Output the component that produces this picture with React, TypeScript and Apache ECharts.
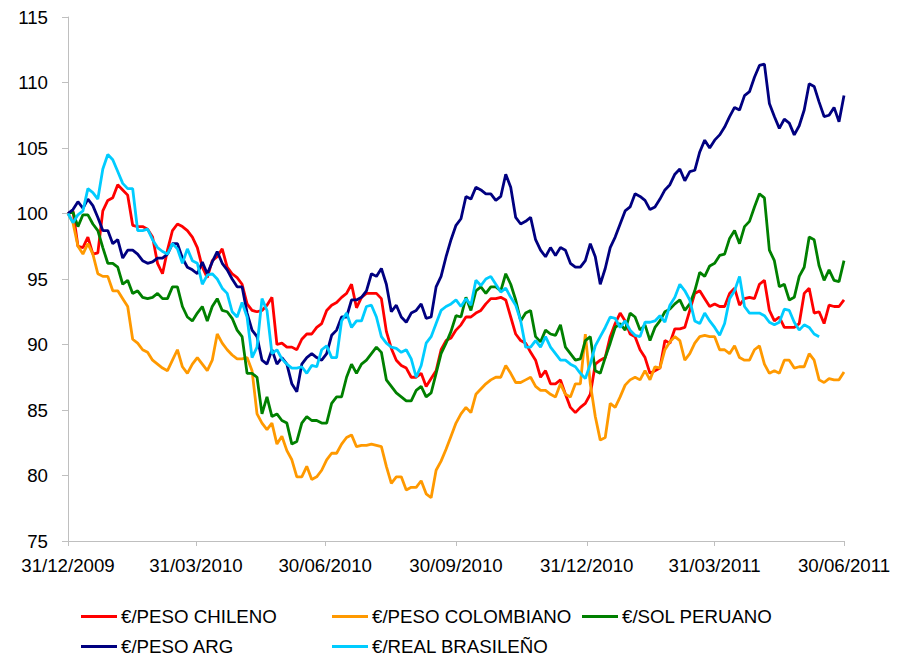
import React, { useEffect, useRef } from "react";
import * as echarts from "echarts";

// Samples read twice a week (every 3.5 days) starting on 31/12/2009
const START_DATE = "2009-12-31";
const STEP_DAYS = 3.5;

const tickLabels = ["31/12/2009", "31/03/2010", "30/06/2010", "30/09/2010", "31/12/2010", "31/03/2011", "30/06/2011"];

const seriesNames = ["€/PESO CHILENO", "€/PESO COLOMBIANO", "€/SOL PERUANO", "€/PESO ARG", "€/REAL BRASILEÑO"];

const pesoChileno = [
  100, 100.2, 97.5, 97.4, 98.2, 96.9, 97, 100.2, 101, 101.2, 102.2, 101.8, 101.4, 99.1, 99, 99, 98.8, 98.2, 96.2, 95.4,
  97.2, 98.7, 99.2, 99, 98.7, 98.2, 97.4, 95.9, 95.1, 96.4, 96.7, 97.3, 95.9, 95.4, 95.1, 94.6, 93.1, 92.6, 92.5, 92.6,
  93, 93.6, 90, 90.1, 89.8, 89.8, 89.6, 90.4, 90.8, 90.8, 91.3, 91.6, 92.6, 93, 93.2, 93.6, 93.9, 94.6, 92.8, 93.6,
  93.9, 93.9, 93.9, 93.5, 91, 89.7, 88.8, 88.4, 88.2, 87.5, 87.5, 87.8, 86.8, 87.4, 88, 89.6, 90.3, 90.5, 91.1, 91.5,
  92.1, 92.1, 92.4, 92.6, 93.1, 93.5, 93.5, 93.6, 93.4, 92.1, 90.8, 90.3, 90.1, 89.4, 88.8, 87.5, 88, 87, 87, 87.3,
  86.2, 85.2, 84.8, 85.2, 85.5, 86.2, 88.5, 88.8, 89, 90.6, 91.6, 92.4, 91.8, 90.8, 90.6, 89.6, 89, 87.8, 88, 88.2,
  90.3, 90.1, 91.2, 91.2, 91.3, 92.6, 93.9, 94.1, 93.5, 92.9, 93.1, 92.9, 92.9, 93.9, 94.3, 93, 93.5, 93.6, 93.5, 94.6,
  94.9, 92.6, 91.8, 92.1, 91.3, 91.3, 91.3, 91.6, 93.9, 94.3, 92.4, 92.5, 91.6, 93, 92.9, 92.9, 93.4,
];

const pesoColombiano = [
  100, 99.3, 97.5, 96.9, 97.7, 96.9, 95.4, 95.2, 95.2, 94.1, 94.1, 93.5, 92.9, 90.4, 90.1, 89.6, 89.4, 88.8, 88.5, 88.2,
  88, 88.8, 89.6, 88.3, 87.8, 88.5, 89, 88.5, 88, 88.8, 90.8, 90.1, 89.6, 89.2, 88.9, 88.9, 89, 88, 84.7, 84,
  83.5, 84, 82.4, 83, 81.9, 81.2, 79.9, 79.9, 80.7, 79.7, 79.9, 80.4, 81.2, 81.7, 81.7, 82.4, 82.9, 83.1, 82.2, 82.3,
  82.3, 82.4, 82.3, 82.2, 80.7, 79.4, 79.9, 79.9, 78.9, 79.1, 79.1, 79.6, 78.6, 78.3, 80.4, 81.1, 82, 83, 84, 84.7,
  85.2, 84.8, 86.2, 86.6, 87, 87.3, 87.5, 87.5, 88.4, 87.8, 87.1, 87.1, 87.3, 87.5, 86.8, 86.5, 86.5, 86.2, 86, 87,
  86.2, 86, 87, 87, 90.8, 87, 84.5, 82.7, 82.9, 85.5, 85.2, 86, 86.9, 87.3, 87.5, 87.3, 88, 87.3, 88.3, 88.2,
  89.6, 90.2, 90.6, 90.3, 88.8, 89.3, 90.1, 90.6, 90.7, 90.6, 90.6, 89.6, 89.6, 89.3, 89.9, 89, 88.8, 88.8, 89.6, 89.9,
  88.5, 87.8, 88, 87.8, 88.8, 88.8, 88.2, 88.3, 88.3, 89.3, 88.8, 87.3, 87.1, 87.4, 87.3, 87.3, 87.9,
];

const solPeruano = [
  100, 100.1, 99, 99.9, 99.9, 99.2, 98.7, 97.4, 96.2, 96.2, 95.9, 94.6, 94.9, 93.9, 94.1, 93.6, 93.5, 93.6, 93.9, 93.5,
  93.5, 94.4, 94.4, 92.9, 92.1, 91.8, 92.4, 92.9, 91.8, 92.9, 93.5, 92.6, 92.5, 92, 91.1, 90.6, 87.8, 87.8, 87.5, 84.7,
  86, 84.5, 84.7, 84.2, 84, 82.4, 82.6, 84, 84.5, 84.2, 84.2, 84, 84, 85.5, 86, 86, 87.5, 88.5, 87.8, 88.5,
  88.8, 89.3, 89.8, 89.4, 87.3, 86.8, 86.3, 86, 85.7, 85.7, 86.5, 86.8, 86, 86.3, 87.8, 89.3, 90.1, 91, 92.2, 92.1,
  93.6, 92.6, 94.1, 94.4, 93.9, 94.4, 94.4, 94.1, 95.4, 94.6, 93.4, 91.8, 92.4, 92.6, 90.6, 90.2, 91.1, 90.8, 90.7, 91.5,
  89.8, 89.3, 88.8, 88.9, 90.3, 90.6, 88, 87.8, 89, 90.1, 91.3, 91.6, 91.1, 92.4, 92.1, 91.1, 91.5, 90.3, 91.3, 91.8,
  92.5, 92.7, 93.1, 93.4, 92.6, 93.1, 94.1, 95.5, 95.2, 96, 96.2, 96.8, 96.9, 98.1, 98.7, 97.7, 99, 99.4, 100.5, 101.5,
  101.2, 97.2, 96.4, 94.4, 94.6, 93.4, 93.6, 95.2, 95.9, 98.2, 98, 96, 94.9, 95.7, 94.9, 94.8, 96.4,
];

const pesoArg = [
  100, 100.3, 100.9, 100.4, 101.1, 100.6, 99.7, 98.7, 98.7, 97.7, 98, 96.6, 97.2, 97.2, 96.9, 96.4, 96.2, 96.3, 96.6, 96.6,
  96.9, 97.7, 97.7, 96.6, 95.9, 95.7, 95.4, 96.3, 95.4, 96.3, 97.1, 96.2, 95.7, 95, 94.4, 94.4, 92.4, 91.1, 90.6, 88.8,
  88.5, 89.6, 88.5, 89, 88.5, 87, 86.4, 88.5, 89, 89.3, 89, 88.8, 89.3, 90.7, 91.1, 92.1, 92.1, 93.4, 93.4, 93.6,
  94.1, 95.4, 95.2, 95.8, 94.6, 92.5, 93, 92.1, 91.7, 92.4, 92.6, 93.1, 92, 92.1, 94.4, 95.2, 96.7, 98, 99.1, 99.6,
  101.3, 101.1, 102, 101.8, 101.5, 101.5, 101, 101.3, 103, 102, 99.7, 99.2, 99.4, 99.7, 98, 97.2, 96.7, 97.4, 96.8, 97.4,
  97.2, 96.2, 95.9, 95.9, 96.4, 97.7, 96.7, 94.6, 95.8, 97.4, 98.2, 99.2, 100.2, 100.5, 101.5, 101.3, 101, 100.3, 100.5, 101.1,
  101.8, 102.2, 103, 103.4, 102.5, 103.2, 103.3, 104.7, 105.6, 105, 105.6, 106, 106.6, 107.4, 108.1, 107.9, 109, 109.3, 110.4, 111.3,
  111.4, 108.4, 107.4, 106.5, 107.2, 106.9, 106, 106.7, 107.9, 109.9, 109.7, 108.5, 107.4, 107.5, 108.1, 107, 109,
];

const realBrasileno = [
  100, 99.3, 99.9, 100.2, 101.9, 101.6, 101.1, 103.4, 104.5, 104.1, 103.2, 102.3, 101.9, 101.9, 98.7, 98.7, 98.8, 98, 97.4, 97.1,
  96.9, 97.7, 97.3, 96.2, 97.3, 96.4, 96.2, 94.6, 95.3, 95.4, 95, 94.3, 93.9, 92.5, 92.1, 93.2, 92.1, 89, 89.8, 93.5,
  92.6, 89.3, 89.6, 88.9, 88.5, 88.2, 88.2, 88.3, 87.8, 88.4, 88.3, 89.6, 89.9, 89, 89, 91.8, 92.4, 91.3, 91.8, 91.8,
  92.9, 93, 92.1, 90.6, 90.1, 89.8, 89.7, 89.4, 89.6, 88.9, 87.5, 88.4, 90.1, 90.6, 91.6, 92.6, 92.9, 93.1, 93.4, 92.9,
  93.5, 93, 94.9, 94.5, 95, 95.2, 94.6, 94, 94.3, 93.6, 93, 91.8, 89.8, 89.8, 90.3, 89.8, 90.6, 89.8, 89.3, 88.8,
  88.8, 88.5, 88.3, 87.8, 87.4, 88.5, 89.9, 90.6, 91.3, 92.1, 92, 91.3, 91.8, 91.1, 90.7, 90.6, 91.7, 91.7, 91.8, 92.2,
  91.7, 93, 93.6, 94.6, 94.1, 93.4, 91.8, 91.6, 92.4, 91.8, 91.3, 90.7, 91.6, 93.5, 94.1, 95.2, 92.9, 92.4, 92.4, 92.4,
  92.2, 91.7, 91.5, 91.7, 92.7, 92.6, 91.7, 91.1, 91.5, 91.3, 90.8, 90.6, null, null, null, null, null,
];

const seriesValues = [pesoChileno, pesoColombiano, solPeruano, pesoArg, realBrasileno];
const seriesColors = ["#FF0000", "#FF9900", "#008000", "#000080", "#00CCFF"];

const FONT = "'Liberation Sans', Arial, Helvetica, sans-serif";
const DAY_MS = 86400000;

function parseDMY(s: string): number {
  const [d, m, y] = s.split("/").map(Number);
  return Date.UTC(y, m - 1, d);
}
const startMs = Date.parse(START_DATE + "T00:00:00Z");
const tickDays = tickLabels.map((t) => Math.round((parseDMY(t) - startMs) / DAY_MS));
const lastDay = tickDays[tickDays.length - 1];

export default function App() {
  const ref = useRef<HTMLDivElement>(null);

  useEffect(() => {
    if (!ref.current) return;
    const chart = echarts.init(ref.current, null, { renderer: "svg" });

    const legendPos = [
      { left: 81, top: 607 },
      { left: 332, top: 607 },
      { left: 582, top: 607 },
      { left: 81, top: 637 },
      { left: 332, top: 637 },
    ];

    const option: any = {
      animation: false,
      backgroundColor: "#FFFFFF",
      grid: { left: 68, right: 62, top: 17, bottom: 117, containLabel: false },
      legend: seriesNames.map((name, i) => ({
        data: [name],
        left: legendPos[i].left,
        top: legendPos[i].top,
        padding: 0,
        icon: "rect",
        itemWidth: 36,
        itemHeight: 3,
        itemGap: 0,
        selectedMode: false,
        textStyle: { fontSize: 18.7, fontFamily: FONT, color: "#000", padding: [0, 0, 0, -1] },
      })),
      xAxis: {
        type: "value",
        min: 0,
        max: lastDay,
        splitLine: { show: false },
        axisLine: { show: true, lineStyle: { color: "#BFBFBF", width: 1 } },
        axisTick: { show: true, customValues: tickDays, length: 5, lineStyle: { color: "#BFBFBF" } },
        axisLabel: {
          customValues: tickDays,
          fontSize: 18.7,
          fontFamily: FONT,
          color: "#000",
          margin: 15,
          formatter: (v: number) => {
            const idx = tickDays.indexOf(Math.round(v));
            return idx >= 0 ? tickLabels[idx] : "";
          },
        },
      },
      yAxis: {
        type: "value",
        min: 75,
        max: 115,
        interval: 5,
        splitLine: { show: false },
        axisLine: { show: true, lineStyle: { color: "#BFBFBF", width: 1 } },
        axisTick: { show: true, length: 6, lineStyle: { color: "#BFBFBF" } },
        axisLabel: { fontSize: 18.7, fontFamily: FONT, color: "#000", margin: 20 },
      },
      series: seriesNames.map((name, i) => ({
        name,
        type: "line",
        showSymbol: false,
        symbol: "none",
        connectNulls: false,
        color: seriesColors[i],
        lineStyle: { width: 2.8, color: seriesColors[i] },
        data: seriesValues[i].map((v, k) => [k * STEP_DAYS, v]),
      })),
    };

    chart.setOption(option);
    return () => chart.dispose();
  }, []);

  return (
    <div
      ref={ref}
      style={{ position: "fixed", left: 0, top: 0, width: 906, height: 658, background: "#fff" }}
    />
  );
}
